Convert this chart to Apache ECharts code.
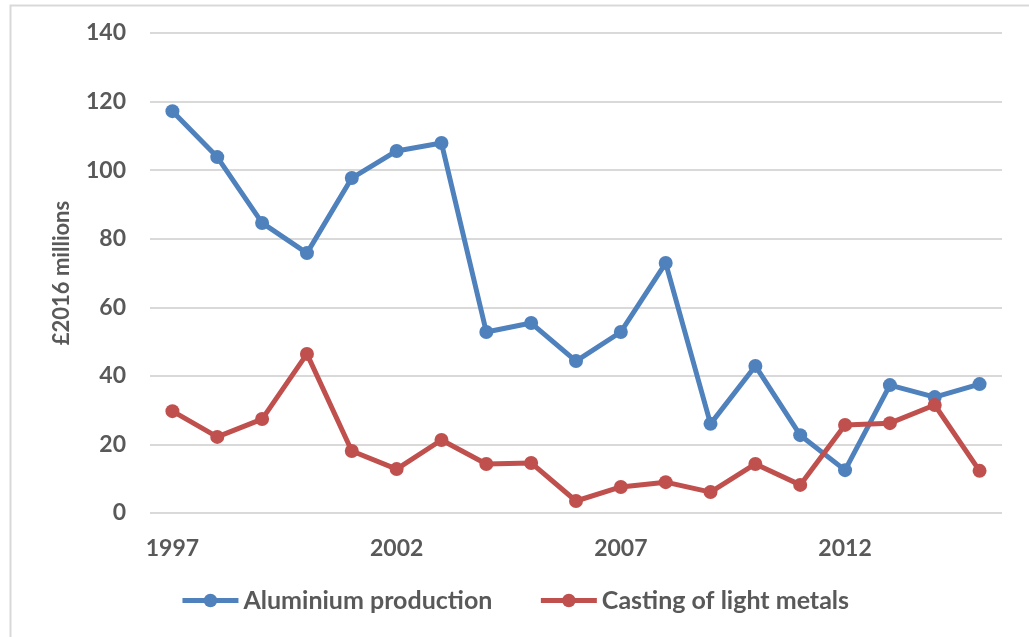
<!DOCTYPE html>
<html>
<head>
<meta charset="utf-8">
<style>
  html, body { margin: 0; padding: 0; background: #fff; }
  #chart { width: 1029px; height: 637px; }
</style>
<script src="https://cdn.jsdelivr.net/npm/echarts@6/dist/echarts.min.js"></script>
</head>
<body>
<div id="chart"></div>
<script>
// Years on the horizontal axis
const years = ['1997','1998','1999','2000','2001','2002','2003','2004','2005','2006',
               '2007','2008','2009','2010','2011','2012','2013','2014','2015'];

// Values in £2016 millions
const aluminiumProduction = [117.2, 103.8, 84.6, 75.8, 97.7, 105.6, 107.9, 52.8, 55.4, 44.3,
                             52.8, 72.9, 26.0, 42.9, 22.7, 12.5, 37.3, 33.8, 37.6];
const castingLightMetals  = [29.7, 22.2, 27.4, 46.4, 18.1, 12.8, 21.3, 14.3, 14.6, 3.5,
                             7.6, 9.0, 6.1, 14.3, 8.2, 25.7, 26.2, 31.5, 12.3];

const seriesNames = ['Aluminium production', 'Casting of light metals'];
const yTicks = { min: 0, max: 140, interval: 20 };

const textColor = '#595959';
const font = 'Lato, "Open Sans", sans-serif';

const chart = echarts.init(document.getElementById('chart'), null, { renderer: 'canvas' });

chart.setOption({
  backgroundColor: '#ffffff',
  animation: false,
  color: ['#4F81BD', '#C0504D'],
  graphic: [{
    type: 'rect',
    shape: { x: 10.5, y: 5.5, width: 1040, height: 660 },
    style: { fill: 'none', stroke: '#d9d9d9', lineWidth: 2 },
    silent: true
  }],
  grid: { left: 150, right: 27, top: 33, bottom: 124, containLabel: false },
  legend: {
    bottom: 19,
    left: 'center',
    itemWidth: 56,
    itemHeight: 17,
    itemGap: 46,
    lineStyle: { width: 5 },
    textStyle: { color: textColor, fontSize: 25, fontWeight: 'bold', fontFamily: font },
    data: seriesNames
  },
  xAxis: {
    type: 'category',
    data: years,
    boundaryGap: true,
    axisLine: { show: false },
    axisTick: { show: false },
    axisLabel: {
      interval: 4,
      color: textColor,
      fontSize: 23,
      fontWeight: 'bold',
      fontFamily: font,
      margin: 24
    }
  },
  yAxis: {
    type: 'value',
    min: yTicks.min,
    max: yTicks.max,
    interval: yTicks.interval,
    name: '£2016 millions',
    nameLocation: 'middle',
    nameGap: 77,
    nameTextStyle: { color: textColor, fontSize: 22, fontWeight: 'bold', fontFamily: font },
    axisLine: { show: false },
    axisTick: { show: false },
    axisLabel: {
      color: textColor,
      fontSize: 23,
      fontWeight: 'bold',
      fontFamily: font,
      margin: 24
    },
    splitLine: { lineStyle: { color: '#d9d9d9', width: 2 } }
  },
  series: [
    {
      name: seriesNames[0],
      type: 'line',
      data: aluminiumProduction,
      symbol: 'circle',
      symbolSize: 14,
      lineStyle: { width: 5 },
      z: 3
    },
    {
      name: seriesNames[1],
      type: 'line',
      data: castingLightMetals,
      symbol: 'circle',
      symbolSize: 14,
      lineStyle: { width: 5 },
      z: 4
    }
  ]
});
</script>
</body>
</html>
